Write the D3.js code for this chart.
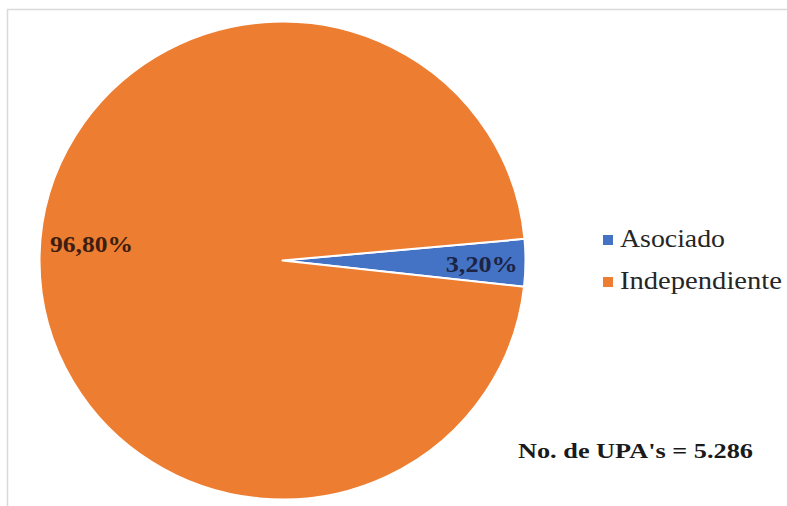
<!DOCTYPE html>
<html>
<head>
<meta charset="utf-8">
<script src="https://cdn.jsdelivr.net/npm/d3@7"></script>
<style>
  html, body { margin: 0; padding: 0; background: #ffffff; }
  svg { display: block; }
</style>
</head>
<body>
<svg id="chart" width="787" height="506"></svg>
<script>
// Data
const categories = ["Asociado", "Independiente"];
const values = [3.20, 96.80];
const valueLabels = ["3,20%", "96,80%"];
const colors = ["#4472C4", "#ED7D31"];
const labelColors = ["#1c2443", "#3d1e10"];
const note = "No. de UPA's = 5.286";

const svg = d3.select("#chart");
const W = 787, H = 506;

// frame
svg.append("rect").attr("x", 7.5).attr("y", 9.5).attr("width", W + 10).attr("height", H + 10)
  .attr("fill", "#ffffff").attr("stroke", "#d9d9d9").attr("stroke-width", 1.5);

const cx = 282.5, cy = 260.5;
const ry = 239, rx = 243;

const pie = d3.pie().sort(null).value(d => d)
  .startAngle(84.8 * Math.PI / 180)
  .endAngle((84.8 + 360) * Math.PI / 180);
const arcs = pie(values);
const arc = d3.arc().innerRadius(0).outerRadius(ry);

const g = svg.append("g").attr("transform", `translate(${cx},${cy})`);
g.append("g").attr("transform", `scale(${rx / ry},1)`)
  .selectAll("path").data(arcs).join("path")
  .attr("d", arc)
  .attr("fill", (d, i) => colors[i])
  .attr("stroke", "#ffffff")
  .attr("stroke-width", 2)
  .attr("stroke-linejoin", "round");

const labelFont = "'Liberation Serif', 'DejaVu Serif', serif";

// Asociado label: inside the small slice, near its outer edge
const aMid = (arcs[0].startAngle + arcs[0].endAngle) / 2;
const aR = ry * 0.82;
g.append("text")
  .attr("x", Math.sin(aMid) * aR * rx / ry)
  .attr("y", -Math.cos(aMid) * aR + 10)
  .attr("text-anchor", "middle")
  .attr("font-family", labelFont).attr("font-weight", "bold").attr("font-size", 24)
  .attr("textLength", 72).attr("lengthAdjust", "spacingAndGlyphs")
  .attr("fill", labelColors[0])
  .text(valueLabels[0]);

// Independiente label: left side of the big slice
const bMid = (arcs[1].startAngle + arcs[1].endAngle) / 2;
const bR = ry * 0.786;
g.append("text")
  .attr("x", Math.sin(bMid) * bR * rx / ry)
  .attr("y", -Math.cos(bMid) * bR - 7)
  .attr("text-anchor", "middle")
  .attr("font-family", labelFont).attr("font-weight", "bold").attr("font-size", 24)
  .attr("textLength", 83).attr("lengthAdjust", "spacingAndGlyphs")
  .attr("fill", labelColors[1])
  .text(valueLabels[1]);

// legend
const legend = svg.append("g").attr("transform", "translate(603,0)");
const legY = [247, 289];
const legW = [105, 162];
categories.forEach((c, i) => {
  legend.append("rect").attr("x", 0).attr("y", legY[i] - 12).attr("width", 10).attr("height", 10)
    .attr("fill", colors[i]);
  legend.append("text").attr("x", 17).attr("y", legY[i])
    .attr("font-family", labelFont).attr("font-size", 25).attr("fill", "#262626")
    .attr("textLength", legW[i]).attr("lengthAdjust", "spacingAndGlyphs")
    .text(c);
});

// note
svg.append("text").attr("x", 518).attr("y", 458)
  .attr("font-family", labelFont).attr("font-weight", "bold").attr("font-size", 21)
  .attr("textLength", 235).attr("lengthAdjust", "spacingAndGlyphs")
  .attr("fill", "#1a1a1a")
  .text(note);
</script>
</body>
</html>
